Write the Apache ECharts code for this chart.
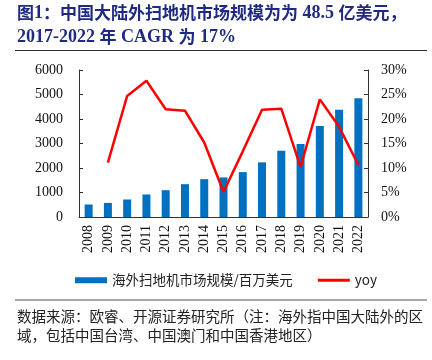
<!DOCTYPE html>
<html>
<head>
<meta charset="utf-8">
<script src="https://cdn.jsdelivr.net/npm/echarts@6/dist/echarts.min.js"></script>
<style>
html,body{margin:0;padding:0;background:#fff;}
#c{width:432px;height:360px;}
</style>
</head>
<body>
<div id="c"></div>
<script>
var years = ['2008','2009','2010','2011','2012','2013','2014','2015','2016','2017','2018','2019','2020','2021','2022'];
var marketSize = [510, 575, 715, 918, 1094, 1340, 1545, 1615, 1832, 2230, 2705, 2980, 3717, 4373, 4850];
var yoy = [null, 11.1, 24.7, 27.8, 22.0, 21.7, 15.2, 5.1, 13.4, 21.9, 22.1, 10.2, 24.0, 18.4, 10.6];
var leftTicks = {min: 0, max: 6000, interval: 1000};
var rightTicks = {min: 0, max: 30, interval: 5};
var barName = '海外扫地机市场规模/百万美元';
var lineName = 'yoy';

var serif = '"Liberation Serif","Times New Roman",serif';
var cjk = '"Noto Sans CJK SC",sans-serif';
var navy = '#1f2a80';

var chart = echarts.init(document.getElementById('c'), null, {renderer: 'canvas'});
chart.setOption({
  animation: false,
  backgroundColor: '#fff',
  grid: {left: 79, right: 64, top: 70, bottom: 143},
  legend: {
    bottom: 68,
    left: 70,
    itemGap: 25,
    itemWidth: 32,
    itemHeight: 6,
    textStyle: {fontSize: 13.5, color: '#222', fontFamily: cjk},
    data: [
      {name: barName, icon: 'rect'},
      {name: lineName, icon: 'path://M0 0 L100 0 L100 9 L0 9 Z'}
    ]
  },
  xAxis: {
    type: 'category',
    data: years,
    axisLine: {lineStyle: {color: '#333', width: 1}},
    axisTick: {inside: true, length: 4, lineStyle: {color: '#888'}},
    axisLabel: {rotate: 90, margin: 8, fontSize: 14, color: '#111', fontFamily: serif}
  },
  yAxis: [
    {
      type: 'value',
      min: leftTicks.min, max: leftTicks.max, interval: leftTicks.interval,
      splitLine: {show: false},
      axisLine: {show: true, lineStyle: {color: '#333', width: 1}},
      axisTick: {show: true, inside: true, length: 4, lineStyle: {color: '#333'}},
      axisLabel: {margin: 16, fontSize: 14, color: '#111', fontFamily: serif, formatter: function (v) { return String(v); }}
    },
    {
      type: 'value',
      min: rightTicks.min, max: rightTicks.max, interval: rightTicks.interval,
      splitLine: {show: false},
      axisLine: {show: true, lineStyle: {color: '#333', width: 1}},
      axisTick: {show: true, inside: true, length: 4, lineStyle: {color: '#333'}},
      axisLabel: {margin: 13, fontSize: 14, color: '#111', fontFamily: serif, formatter: '{value}%'}
    }
  ],
  series: [
    {
      name: barName,
      type: 'bar',
      data: marketSize,
      barWidth: 8,
      itemStyle: {color: '#0070c0'}
    },
    {
      name: lineName,
      type: 'line',
      yAxisIndex: 1,
      data: yoy,
      symbol: 'none',
      connectNulls: false,
      lineStyle: {color: '#ff0000', width: 2.5},
      itemStyle: {color: '#ff0000'}
    }
  ],
  graphic: [
    {
      type: 'text', left: 17, top: 4,
      style: {
        text: '{c|图}{l|1}{c|：中国大陆外扫地机市场规模为为}{l| 48.5 }{c|亿美元，}',
        rich: {
          c: {font: 'bold 17px ' + cjk, fill: navy},
          l: {font: 'bold 18px ' + serif, fill: navy}
        }
      }
    },
    {
      type: 'text', left: 17, top: 28,
      style: {
        text: '{l|2017-2022 }{c|年}{l| CAGR }{c|为}{l| 17%}',
        rich: {
          c: {font: 'bold 17px ' + cjk, fill: navy},
          l: {font: 'bold 18px ' + serif, fill: navy}
        }
      }
    },
    {
      type: 'line', shape: {x1: 15, y1: 50.5, x2: 427, y2: 50.5},
      style: {stroke: '#333', lineWidth: 1}
    },
    {
      type: 'line', shape: {x1: 15, y1: 300, x2: 427, y2: 300},
      style: {stroke: '#888', lineWidth: 1.5}
    },
    {
      type: 'text', left: 17, top: 309,
      style: {text: '数据来源：欧睿、开源证券研究所（注：海外指中国大陆外的区', font: '14.5px ' + cjk, fill: '#222'}
    },
    {
      type: 'text', left: 17, top: 328,
      style: {text: '域，包括中国台湾、中国澳门和中国香港地区）', font: '14.5px ' + cjk, fill: '#222'}
    }
  ]
});
</script>
</body>
</html>
